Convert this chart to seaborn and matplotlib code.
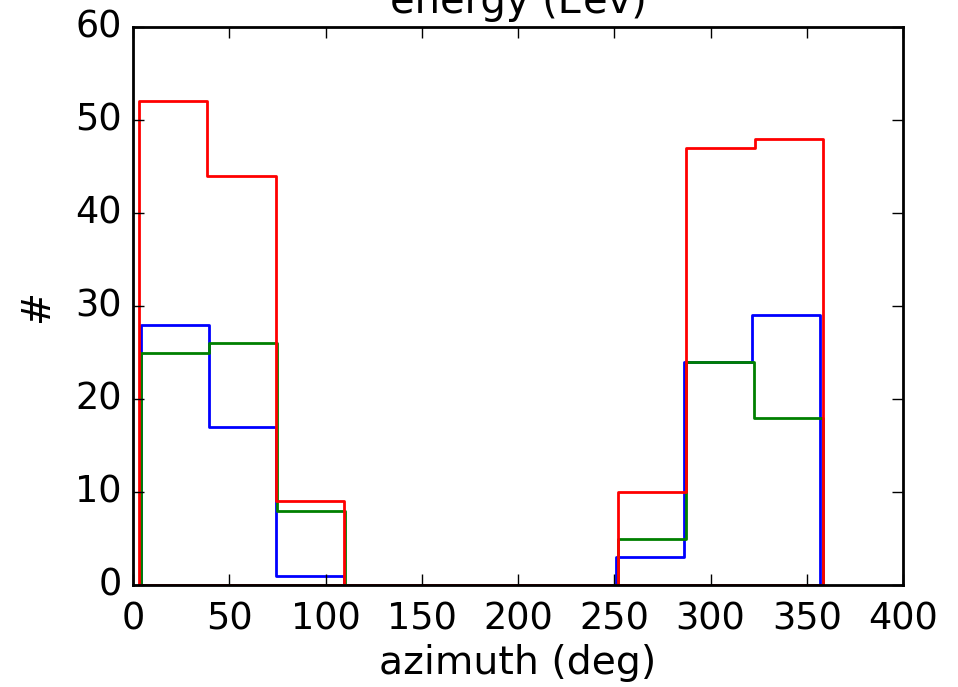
import numpy as np
import pandas as pd
import matplotlib
matplotlib.use("Agg")
import matplotlib.pyplot as plt
import seaborn as sns

# ---- data ----
series_names = ["blue", "green", "red"]          # drawing order (red on top)
series_colors = ["b", "g", "r"]
counts_blue = [28, 17, 1, 0, 0, 0, 0, 3, 24, 29]
counts_green = [25, 26, 8, 0, 0, 0, 0, 5, 24, 18]
counts_red = [52, 44, 9, 0, 0, 0, 0, 10, 47, 48]
range_blue = (4.0, 356.7)
range_green = (4.0, 358.2)
range_red = (3.1, 358.4)
n_bins = 10
x_ticks = [0, 50, 100, 150, 200, 250, 300, 350, 400]
y_ticks = [0, 10, 20, 30, 40, 50, 60]
title = "energy (Eev)"
x_label = "azimuth (deg)"
y_label = "#"

sns.set_style("ticks")
plt.style.use("classic")
plt.rcParams["figure.facecolor"] = "white"
plt.rcParams["savefig.facecolor"] = "white"
plt.rcParams["font.family"] = ["DejaVu Sans"]

fig = plt.figure(figsize=(4.79, 3.435), dpi=200)
ax = fig.add_axes([133 / 958, 1 - 585 / 687, (903 - 133) / 958, (585 - 27) / 687])

all_counts = [counts_blue, counts_green, counts_red]
all_ranges = [range_blue, range_green, range_red]
for name, col, cnts, rng in zip(series_names, series_colors, all_counts, all_ranges):
    edges = np.linspace(rng[0], rng[1], n_bins + 1)
    centers = (edges[:-1] + edges[1:]) / 2
    df = pd.DataFrame({"azimuth": centers, "n": cnts})
    sns.histplot(data=df, x="azimuth", weights="n", bins=n_bins, binrange=rng,
                 element="step", fill=True, color=col, facecolor="none",
                 edgecolor=col, linewidth=1.0, ax=ax)

ax.set_xlim(0, 400)
ax.set_ylim(0, 60)
ax.set_xticks(x_ticks)
ax.set_yticks(y_ticks)
ax.tick_params(direction="in", top=True, right=True, length=4, width=0.5, labelsize=13.2)
ax.tick_params(axis="x", pad=5.5)
ax.set_xlabel(x_label, fontsize=14.2, labelpad=2.5)
ax.set_ylabel(y_label, fontsize=14.2, labelpad=7)
ax.set_title(title, fontsize=14.4, pad=5)

fig.savefig("out.png", dpi=200)
